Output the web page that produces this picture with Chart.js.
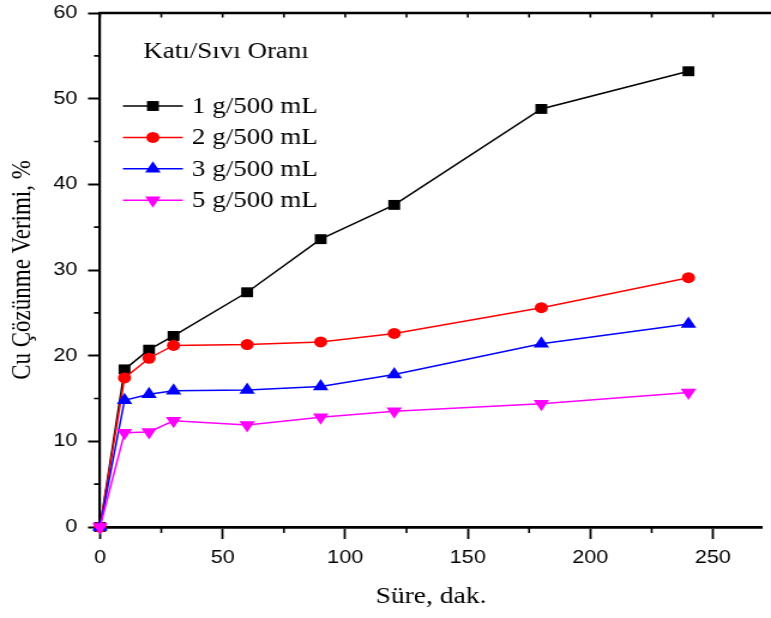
<!DOCTYPE html>
<html>
<head>
<meta charset="utf-8">
<script src="https://cdn.jsdelivr.net/npm/chart.js@4.4.1/dist/chart.umd.min.js"></script>
<style>
  html, body { margin: 0; padding: 0; background: #fff; overflow: hidden; }
  /* the figure is laid out on a 643px-wide canvas and widened to 771px */
  #wrap { width: 643px; height: 618px; transform: scaleX(1.19907); transform-origin: 0 0; }
</style>
</head>
<body>
<div id="wrap"><canvas id="c" width="643" height="618"></canvas></div>
<script>
// Süre (dak.)
const times = [0, 10, 20, 30, 60, 90, 120, 180, 240];
// Cu çözünme verimi (%) for each katı/sıvı oranı
const yield1 = [0, 18.4, 20.7, 22.3, 27.4, 33.6, 37.6, 48.8, 53.2];
const yield2 = [0, 17.4, 19.7, 21.2, 21.3, 21.6, 22.6, 25.6, 29.1];
const yield3 = [0, 14.8, 15.5, 15.9, 16.0, 16.4, 17.8, 21.4, 23.7];
const yield5 = [0, 11.0, 11.1, 12.4, 11.9, 12.8, 13.5, 14.4, 15.7];
const seriesNames = ['1 g/500 mL', '2 g/500 mL', '3 g/500 mL', '5 g/500 mL'];
const legendTitle = 'Katı/Sıvı Oranı';
const xTicks = [0, 50, 100, 150, 200, 250];
const yTicks = [0, 10, 20, 30, 40, 50, 60];
const xMinor = [25, 75, 125, 175, 225];
const yMinor = [5, 15, 25, 35, 45, 55];
const xTopTicks = [0, 25, 50, 75, 100, 125, 150, 175, 200, 225, 250];

const styles = [
  { color: '#000000', pointStyle: 'rect', radius: 7, rotation: 0 },
  { color: '#ff0000', pointStyle: 'circle', radius: 5.5, rotation: 0 },
  { color: '#0000ff', pointStyle: 'triangle', radius: 7.5, rotation: 0 },
  { color: '#ff00ff', pointStyle: 'triangle', radius: 7.5, rotation: 180 }
];
const allYields = [yield1, yield2, yield3, yield5];

const datasets = allYields.map((vals, i) => ({
  label: seriesNames[i],
  data: times.map((t, k) => ({ x: t, y: vals[k] })),
  borderColor: styles[i].color,
  backgroundColor: styles[i].color,
  borderWidth: 1.5,
  pointStyle: styles[i].pointStyle,
  pointRadius: styles[i].radius,
  pointRotation: styles[i].rotation,
  pointBorderWidth: 0,
  pointBackgroundColor: styles[i].color,
  tension: 0,
  clip: false,
  order: 4 - i
}));

const serif = 'Liberation Serif, Times New Roman, serif';
const sans = 'Liberation Sans, Arial, sans-serif';

// top frame line, inward top ticks and the short minor ticks
const framePlugin = {
  id: 'frame',
  afterDraw(chart) {
    const { ctx, chartArea: a, scales: { x, y } } = chart;
    ctx.save();
    ctx.strokeStyle = '#000';
    ctx.lineWidth = 2.6;
    ctx.beginPath();
    ctx.moveTo(a.left - 1, a.top);
    ctx.lineTo(chart.width + 2, a.top);
    ctx.stroke();

    ctx.lineWidth = 1.6;
    ctx.beginPath();
    xTopTicks.forEach(v => {
      const px = x.getPixelForValue(v);
      ctx.moveTo(px, a.top);
      ctx.lineTo(px, a.top + 4.5);
    });
    xMinor.forEach(v => {
      const px = x.getPixelForValue(v);
      ctx.moveTo(px, a.bottom);
      ctx.lineTo(px, a.bottom + 6);
    });
    yMinor.forEach(v => {
      const py = y.getPixelForValue(v);
      ctx.moveTo(a.left, py);
      ctx.lineTo(a.left - 5, py);
    });
    ctx.stroke();
    ctx.restore();
  }
};

// legend block drawn inside the plot area
const legendPlugin = {
  id: 'innerLegend',
  afterDraw(chart) {
    const ctx = chart.ctx;
    ctx.save();
    ctx.fillStyle = '#000';
    ctx.textBaseline = 'middle';
    ctx.textAlign = 'left';
    ctx.font = '22.5px ' + serif;
    ctx.fillText(legendTitle, 119.5, 52);
    const x0 = 102.5, x1 = 152.5, xm = 127.5, xt = 160;
    chart.data.datasets.forEach((ds, i) => {
      const yy = 106 + i * 31.4;
      ctx.strokeStyle = ds.borderColor;
      ctx.lineWidth = 1.5;
      ctx.beginPath();
      ctx.moveTo(x0, yy);
      ctx.lineTo(x1, yy);
      ctx.stroke();
      ctx.fillStyle = ds.pointBackgroundColor;
      Chart.helpers.drawPoint(ctx, {
        pointStyle: ds.pointStyle,
        radius: ds.pointRadius,
        rotation: ds.pointRotation,
        borderWidth: 0
      }, xm, yy);
      ctx.fillStyle = '#000';
      ctx.fillText(ds.label, xt, yy + 1);
    });
    ctx.restore();
  }
};

new Chart(document.getElementById('c'), {
  type: 'line',
  data: { datasets },
  plugins: [framePlugin, legendPlugin],
  options: {
    responsive: false,
    animation: false,
    devicePixelRatio: 1,
    layout: { padding: { top: 13, right: 0, left: 0, bottom: 0 } },
    plugins: { legend: { display: false }, tooltip: { enabled: false } },
    scales: {
      x: {
        type: 'linear',
        min: 0,
        max: 270,
        afterBuildTicks: s => { s.ticks = xTicks.map(v => ({ value: v })); },
        afterFit: s => { s.height = 91; s.paddingLeft = 0; s.paddingRight = 0; },
        border: { display: true, color: '#000', width: 2.8 },
        grid: { drawOnChartArea: false, drawTicks: true, tickLength: 12, tickWidth: 1.8, tickColor: '#000' },
        ticks: { color: '#000', font: { family: sans, size: 18 }, padding: 8, maxRotation: 0 },
        title: { display: true, text: 'Süre, dak.', color: '#000', font: { family: serif, size: 23 }, padding: { top: 0, bottom: 7 } }
      },
      y: {
        type: 'linear',
        min: 0,
        max: 60,
        afterBuildTicks: s => { s.ticks = yTicks.map(v => ({ value: v })); },
        afterFit: s => { s.width = 83.4; s.paddingTop = 0; s.paddingBottom = 0; },
        border: { display: true, color: '#000', width: 2.2 },
        grid: { drawOnChartArea: false, drawTicks: true, tickLength: 10, tickWidth: 2, tickColor: '#000' },
        ticks: { color: '#000', font: { family: sans, size: 18 }, padding: 9 },
        title: { display: true, text: 'Cu Çözünme Verimi, %', color: '#000', font: { family: serif, size: 23 }, padding: { top: 5, bottom: 0 } }
      }
    }
  }
});
</script>
</body>
</html>
